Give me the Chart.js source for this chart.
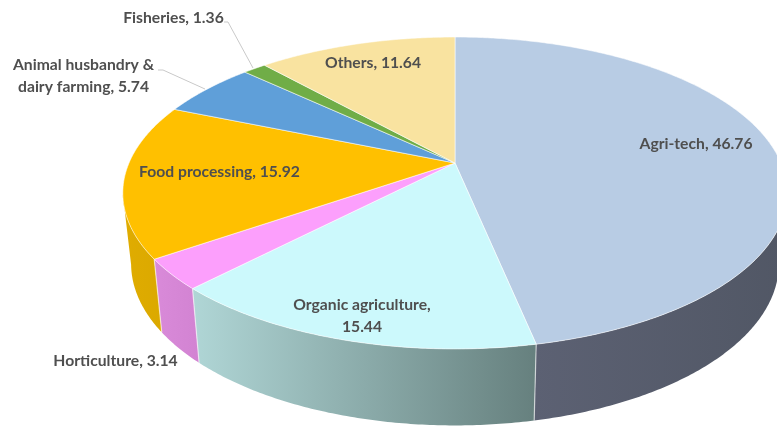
<!DOCTYPE html>
<html lang="en">
<head>
<meta charset="UTF-8">
<title>Agri startups</title>
<script src="https://cdn.jsdelivr.net/npm/chart.js"></script>
<style>
    html, body { margin: 0; padding: 0; background: #fff; }
    #wrap { width: 777px; height: 426px; overflow: hidden; }
    canvas { display: block; }
</style>
</head>
<body>
<div id="wrap"><canvas id="myChart" width="777" height="426"></canvas></div>
<script>
const categories = ['Agri-tech', 'Organic agriculture', 'Horticulture', 'Food processing',
    'Animal husbandry & dairy farming', 'Fisheries', 'Others'];
const shares = [46.76, 15.44, 3.14, 15.92, 5.74, 1.36, 11.64];
const topColors = ['#b8cce4', '#ccf9fc', '#fc9ffc', '#ffc000', '#5f9fd9', '#70ad47', '#f9e3a0'];
const sideFrom = ['#5c6173', '#b0d6d6', '#d98ad9', '#e0ac00', '#4f86b8', '#5e9139', '#d1bf86'];
const sideTo = ['#515765', '#66807e', '#d283d2', '#dba900', '#4f86b8', '#5e9139', '#d1bf86'];

// label centres, in canvas pixels, same order as categories
const labelPlaces = [
    { x: 696, y: 144, wrap: 200 },
    { x: 362, y: 305, wrap: 160 },
    { x: 115.5, y: 361, wrap: 200 },
    { x: 219.5, y: 172, wrap: 200 },
    { x: 83.5, y: 65, wrap: 155 },
    { x: 173.5, y: 18, wrap: 200 },
    { x: 373, y: 63, wrap: 200 }
];
const leaders = [
    [[224, 22], [228, 22], [253, 68]],
    [[158, 70], [163, 70], [205, 89]]
];

// the pie is tilted with some perspective, so the centre sits above the middle of the ellipse
const tilt = 0.4607;
const persp = 0.1923;
const depthScale = 0.975;
const rimDrop = 69.5;
const rimTilt = 0.478;

function topPoint(arc, angle) {
    const u = Math.cos(angle), v = Math.sin(angle), w = 1 - persp * v;
    const r = arc.outerRadius;
    return [arc.x + r * u / w, arc.y + r * tilt * v / w];
}

function rimPoint(arc, angle) {
    const u = Math.cos(angle), v = Math.sin(angle), w = 1 - persp * v;
    const r = arc.outerRadius;
    return [arc.x + depthScale * r * u / w, arc.y + rimDrop + r * rimTilt * v / w];
}

function sampleAngles(arc) {
    const steps = Math.max(4, Math.ceil((arc.endAngle - arc.startAngle) / 0.01));
    const out = [];
    for (let i = 0; i <= steps; i++) {
        out.push(arc.startAngle + (arc.endAngle - arc.startAngle) * i / steps);
    }
    return out;
}

function drawSide(ctx, arc, i) {
    // only the part of the wall facing the viewer, sin = persp is where the outline turns
    const angles = sampleAngles(arc).filter(a => Math.sin(a) >= persp);
    if (angles.length < 2) return;
    const upper = angles.map(a => topPoint(arc, a));
    const lower = angles.map(a => rimPoint(arc, a)).reverse();
    const xs = upper.concat(lower).map(p => p[0]);
    const grad = ctx.createLinearGradient(Math.min(...xs), 0, Math.max(...xs), 0);
    grad.addColorStop(0, sideFrom[i]);
    grad.addColorStop(1, sideTo[i]);
    ctx.beginPath();
    upper.concat(lower).forEach((p, n) => n ? ctx.lineTo(p[0], p[1]) : ctx.moveTo(p[0], p[1]));
    ctx.closePath();
    ctx.fillStyle = grad;
    ctx.fill();
}

function drawSideEdge(ctx, arc, angle) {
    if (Math.sin(angle) < persp) return;
    const a = topPoint(arc, angle), b = rimPoint(arc, angle);
    ctx.beginPath();
    ctx.moveTo(a[0], a[1]);
    ctx.lineTo(b[0], b[1]);
    ctx.strokeStyle = 'rgba(255,255,255,0.6)';
    ctx.lineWidth = 1.2;
    ctx.stroke();
}

function drawTop(ctx, arc) {
    ctx.beginPath();
    ctx.moveTo(arc.x, arc.y);
    sampleAngles(arc).forEach(a => {
        const p = topPoint(arc, a);
        ctx.lineTo(p[0], p[1]);
    });
    ctx.closePath();
    ctx.fillStyle = arc.options.backgroundColor;
    ctx.fill();
    ctx.strokeStyle = arc.options.borderColor;
    ctx.lineWidth = arc.options.borderWidth;
    ctx.lineJoin = 'round';
    ctx.stroke();
}

function wrapText(ctx, text, maxWidth) {
    const lines = [];
    let line = '';
    text.split(' ').forEach(word => {
        const next = line ? line + ' ' + word : word;
        if (line && ctx.measureText(next).width > maxWidth) {
            lines.push(line);
            line = word;
        } else {
            line = next;
        }
    });
    lines.push(line);
    return lines;
}

const pie3d = {
    id: 'pie3d',
    beforeDatasetDraw(chart, args) {
        const ctx = chart.ctx;
        const arcs = chart.getDatasetMeta(args.index).data;
        ctx.save();
        arcs.forEach((arc, i) => drawSide(ctx, arc, i));
        arcs.forEach(arc => drawSideEdge(ctx, arc, arc.endAngle));
        arcs.forEach(arc => drawTop(ctx, arc));
        ctx.restore();
        return false;
    },
    afterDatasetsDraw(chart) {
        const ctx = chart.ctx;
        ctx.save();
        ctx.strokeStyle = '#c9c9c9';
        ctx.lineWidth = 1;
        leaders.forEach(pts => {
            ctx.beginPath();
            pts.forEach((p, n) => n ? ctx.lineTo(p[0], p[1]) : ctx.moveTo(p[0], p[1]));
            ctx.stroke();
        });
        ctx.font = 'bold 15.7px Lato';
        ctx.fillStyle = '#4f4f4f';
        ctx.textAlign = 'center';
        ctx.textBaseline = 'middle';
        categories.forEach((name, i) => {
            const place = labelPlaces[i];
            const lines = wrapText(ctx, name + ', ' + shares[i], place.wrap);
            lines.forEach((line, n) => ctx.fillText(line, place.x, place.y + n * 21.5));
        });
        ctx.restore();
    }
};

new Chart(document.getElementById('myChart').getContext('2d'), {
    type: 'pie',
    data: {
        labels: categories,
        datasets: [{
            data: shares,
            backgroundColor: topColors,
            borderColor: 'rgba(255,255,255,0.55)',
            borderWidth: 1,
            radius: 326
        }]
    },
    options: {
        responsive: false,
        animation: false,
        layout: { padding: { left: 133, right: 0, top: 0, bottom: 100 } },
        plugins: { legend: { display: false }, tooltip: { enabled: false } }
    },
    plugins: [pie3d]
});
</script>
</body>
</html>
